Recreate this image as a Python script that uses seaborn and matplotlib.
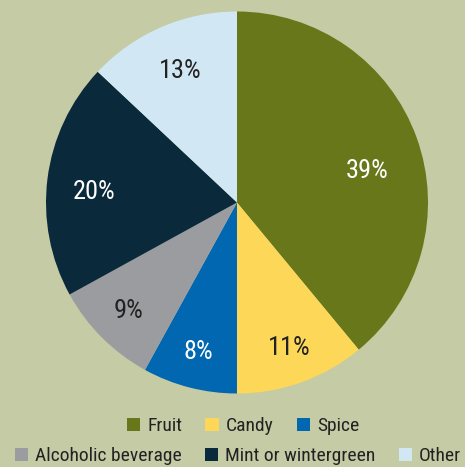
import matplotlib
matplotlib.use("Agg")
import numpy as np
import matplotlib.pyplot as plt
import seaborn as sns
from matplotlib.patches import Patch

# --- data ---
categories = ["Fruit", "Candy", "Spice", "Alcoholic beverage", "Mint or wintergreen", "Other"]
shares = [39, 11, 8, 9, 20, 13]
hex_colors = ["#677719", "#fdd757", "#0067b0", "#9b9ca0", "#0a293b", "#d1e8f4"]
label_colors = ["white", "#222222", "white", "#222222", "white", "#222222"]
# label placement tweaks: fraction of radius, and angle shift in degrees
label_radius = [0.70, 0.81, 0.81, 0.80, 0.75, 0.75]
label_shift = [-6, 0, 0, 0, 3, 0]

bg = "#c5cba5"
sns.set_style("white")
plt.rcParams["font.family"] = ["Roboto Condensed", "DejaVu Sans"]
palette = sns.color_palette(hex_colors)

fig = plt.figure(figsize=(4.65, 4.67), dpi=100, facecolor=bg)
ax = fig.add_axes([46 / 465, 1 - 394 / 467, 382 / 465, 383 / 467])
ax.set_facecolor(bg)

wedges, texts, autotexts = ax.pie(
    shares, colors=palette, startangle=90, counterclock=False,
    autopct="%d%%", pctdistance=1.0,
    wedgeprops=dict(linewidth=0),
    textprops=dict(fontsize=19),
)
for t, c, r, d in zip(autotexts, label_colors, label_radius, label_shift):
    t.set_color(c)
    x, y = t.get_position()
    ang = np.arctan2(y, x) + np.deg2rad(d)
    t.set_position((r * np.cos(ang), r * np.sin(ang)))
ax.set_xlim(-1, 1)
ax.set_ylim(-1, 1)
ax.set_aspect("equal")
ax.axis("off")

handles = [Patch(facecolor=c, edgecolor="none") for c in palette]
leg_kw = dict(frameon=False, fontsize=14, handlelength=0.68, handleheight=0.68,
              handletextpad=0.36, columnspacing=1.2, labelcolor="#222222",
              borderpad=0, borderaxespad=0)
leg1 = fig.legend(handles[:3], categories[:3], ncol=3, loc="center",
                  bbox_to_anchor=(243 / 465, 1 - 426 / 467), **leg_kw)
leg2 = fig.legend(handles[3:], categories[3:], ncol=3, loc="center",
                  bbox_to_anchor=(238 / 465, 1 - 456 / 467), **leg_kw)

fig.savefig("out.png", dpi=100, facecolor=bg)
